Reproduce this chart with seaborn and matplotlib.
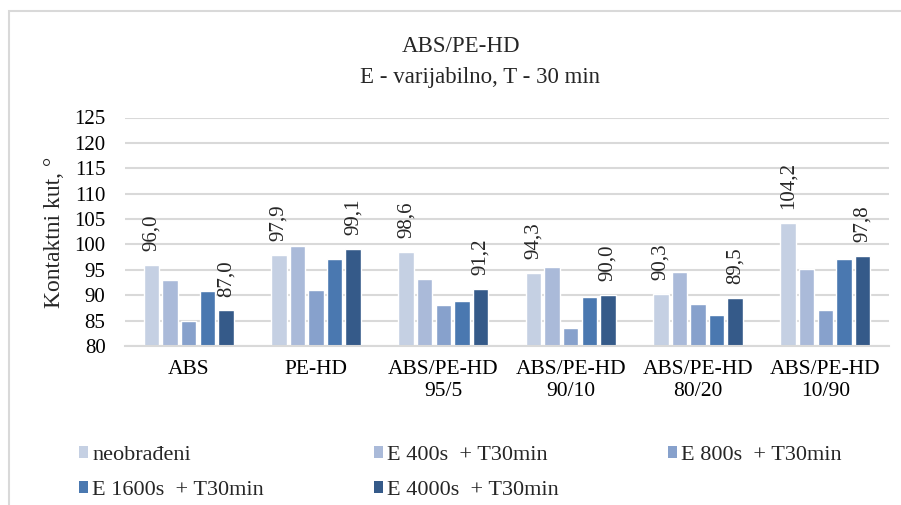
import seaborn as sns
import pandas as pd
import matplotlib.pyplot as plt
from matplotlib.patches import Rectangle, Patch

# Data
materials = ["ABS", "PE-HD", "ABS/PE-HD\n95/5", "ABS/PE-HD\n90/10",
             "ABS/PE-HD\n80/20", "ABS/PE-HD\n10/90"]
treatments = ["neobrađeni", "E 400s  + T30min", "E 800s  + T30min",
              "E 1600s  + T30min", "E 4000s  + T30min"]
neobradeni = [96.0, 97.9, 98.6, 94.3, 90.3, 104.2]
e400 = [93.0, 99.6, 93.1, 95.6, 94.6, 95.2]
e800 = [85.0, 91.0, 88.1, 83.5, 88.3, 87.0]
e1600 = [90.9, 97.2, 88.8, 89.7, 86.2, 97.1]
e4000 = [87.0, 99.1, 91.2, 90.0, 89.5, 97.8]
colors = ["#c5d0e3", "#aabad9", "#87a1cc", "#4a78b0", "#355a89"]

series = [neobradeni, e400, e800, e1600, e4000]
df = pd.DataFrame({
    "material": [m for s in series for m in materials],
    "treatment": [t for t, s in zip(treatments, series) for _ in s],
    "kut": [v for s in series for v in s],
})

sns.set_style("white")
plt.rcParams["font.family"] = ["Liberation Serif", "DejaVu Serif"]

fig = plt.figure(figsize=(9.01, 5.05), dpi=100)
ax = fig.add_axes([125 / 901, 1 - 346 / 505, 764 / 901, 228.5 / 505])

sns.barplot(data=df, x="material", y="kut", hue="treatment",
            hue_order=treatments, palette=colors, width=0.73, saturation=1,
            errorbar=None, legend=False, ax=ax)

# narrow the bars to leave small white gaps between them
for p in ax.patches:
    w = p.get_width()
    p.set_x(p.get_x() + w * 0.085)
    p.set_width(w * 0.83)

ax.set_ylim(80, 125)
ax.set_yticks(range(80, 126, 5))
ax.set_xlim(-0.5, len(materials) - 0.5)
ax.yaxis.grid(True, color="#d9d9d9", linewidth=1.5)
ax.set_axisbelow(True)
for side in ["top", "right", "left"]:
    ax.spines[side].set_visible(False)
ax.spines["bottom"].set_color("#d9d9d9")
ax.spines["bottom"].set_linewidth(1.5)
ax.tick_params(axis="both", length=0, colors="black")
ax.tick_params(axis="x", pad=10, labelsize=15.5)
ax.tick_params(axis="y", pad=14, labelsize=15)
ax.set_xlabel("")
ax.set_ylabel("")

# value labels only on first and last series
for idx, vals in [(0, neobradeni), (4, e4000)]:
    cont = ax.containers[idx]
    for bar, v in zip(cont, vals):
        ax.annotate(f"{v:.1f}".replace(".", ","),
                    (bar.get_x() + bar.get_width() / 2, v),
                    xytext=(0, 10), textcoords="offset points",
                    rotation=90, ha="center", va="bottom", fontsize=15)

fig.text(461 / 901, 1 - 46 / 505, "ABS/PE-HD", ha="center", va="center",
         fontsize=16.5)
fig.text(480 / 901, 1 - 77 / 505, "E - varijabilno, T - 30 min",
         ha="center", va="center", fontsize=16.5)
fig.text(55 / 901, 1 - 232 / 505, "Kontaktni kut, °", rotation=90,
         ha="center", va="center", fontsize=17)

# legend: three columns, filled row by row
col_x = [79, 374, 668]
for c in range(3):
    idxs = [i for i in range(len(treatments)) if i % 3 == c]
    handles = [Patch(facecolor=colors[i], edgecolor="none") for i in idxs]
    labels = [treatments[i] for i in idxs]
    fig.legend(handles, labels, loc="upper left",
               bbox_to_anchor=(col_x[c] / 901, 1 - 446 / 505), frameon=False,
               fontsize=16, handlelength=0.4, handleheight=0.4,
               handletextpad=0.2, labelspacing=0.72, borderpad=0,
               borderaxespad=0)

# light chart border
fig.patches.append(Rectangle((9 / 901, -0.1), 1.0, 1 - 11 / 505 + 0.1,
                             transform=fig.transFigure, fill=False,
                             edgecolor="#d9d9d9", linewidth=1.5))

fig.savefig("out.png", dpi=100)
